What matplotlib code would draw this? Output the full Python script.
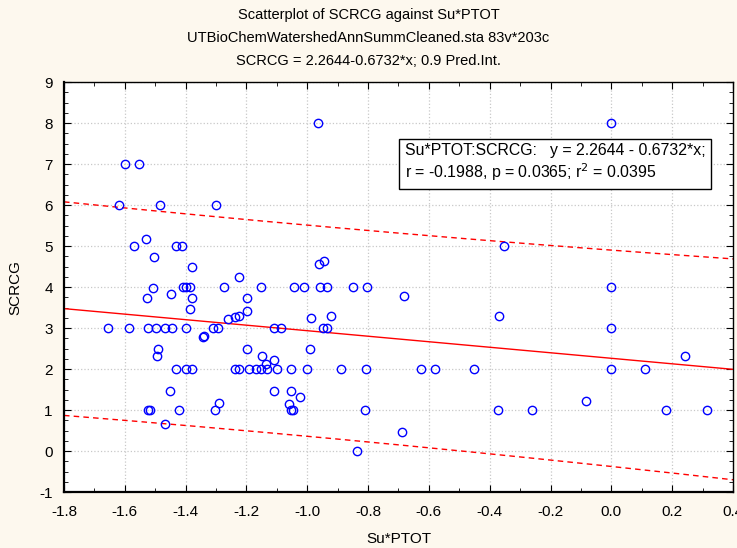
import numpy as np
import matplotlib
matplotlib.use("Agg")
import matplotlib.pyplot as plt
from matplotlib.ticker import MultipleLocator

# points, grouped by rows of similar SCRCG
su_ptot = [
    -0.966, 0.0,
    -1.600, -1.552,
    -1.619, -1.484, -1.300,
    -1.530, -1.570, -1.431, -1.411, -0.353,
    -1.505, -0.963, -0.945, -1.378, -1.224,
    -1.508, -1.410, -1.400, -1.387, -1.274, -1.152, -1.044, -1.012, -0.957, -0.936, -0.849, -0.803, 0.0,
    -1.447, -0.682, -1.526, -1.380, -1.198,
    -1.387, -1.198,
    -1.259, -1.239, -1.224, -0.987, -0.923, -0.370,
    -1.656, -1.587, -1.524, -1.497, -1.468, -1.444, -1.398, -1.310, -1.294, -1.109, -1.087, -0.947, -0.935, 0.0,
    -1.342, -1.339,
    -1.491, -1.198, -0.992,
    -1.494, -1.150, 0.242,
    -1.136, -1.109,
    -1.433, -1.398, -1.380, -1.239, -1.225, -1.193, -1.170, -1.153, -1.133, -1.098, -1.055, -1.002,
    -0.890, -0.807, -0.626, -0.580, -0.452, 0.0, 0.109,
    -1.451, -1.109, -1.053,
    -1.023, -0.082, -1.290, -1.061,
    -1.524, -1.517, -1.422, -1.304, -1.055, -1.048, -0.809, -0.374, -0.262, 0.181, 0.314,
    -1.468, -0.687, -0.838,
]
scrcg = [
    8.0, 8.0,
    7.0, 7.0,
    6.0, 6.0, 6.0,
    5.18, 5.0, 5.0, 5.0, 5.0,
    4.73, 4.57, 4.63, 4.49, 4.24,
    3.97, 4.0, 4.0, 4.0, 4.0, 4.0, 4.0, 4.0, 4.0, 4.0, 4.0, 4.0, 4.0,
    3.84, 3.78, 3.74, 3.74, 3.74,
    3.47, 3.41,
    3.23, 3.26, 3.30, 3.24, 3.30, 3.30,
    3.0, 3.0, 3.0, 3.0, 3.0, 3.0, 3.0, 3.0, 3.0, 3.0, 3.0, 3.0, 3.0, 3.0,
    2.79, 2.81,
    2.49, 2.49, 2.49,
    2.31, 2.31, 2.31,
    2.13, 2.23,
    2.0, 2.0, 2.0, 2.0, 2.0, 2.0, 2.0, 2.0, 2.0, 2.0, 2.0, 2.0,
    2.0, 2.0, 2.0, 2.0, 2.0, 2.0, 2.0,
    1.47, 1.47, 1.47,
    1.32, 1.23, 1.17, 1.16,
    1.0, 1.0, 1.0, 1.0, 1.0, 1.0, 1.0, 1.0, 1.0, 1.0, 1.0,
    0.66, 0.47, 0.0,
]
intercept = 2.2644
slope = -0.6732
t_90 = 1.645

x = np.array(su_ptot)
y = np.array(scrcg)
n = len(x)
resid = y - (intercept + slope * x)
s = np.sqrt((resid ** 2).sum() / (n - 2))
xbar = x.mean()
sxx = ((x - xbar) ** 2).sum()

xx = np.linspace(-1.8, 0.4, 200)
fit = intercept + slope * xx
half = t_90 * s * np.sqrt(1 + 1 / n + (xx - xbar) ** 2 / sxx)

bg = "#fdf8ee"
plt.rcParams["font.family"] = ["Liberation Sans", "DejaVu Sans"]
plt.rcParams["axes.unicode_minus"] = False
fig = plt.figure(figsize=(7.37, 5.48), dpi=100, facecolor=bg)
ax = fig.add_axes([0.0868, 0.102, 0.9078, 0.748])

ax.grid(True, color="#c8c8c8", linestyle=":", linewidth=0.9)
ax.set_axisbelow(True)
ax.plot(xx, fit, color="red", linewidth=1.0)
ax.plot(xx, fit + half, color="red", linewidth=1.0, linestyle=(0, (4, 3)))
ax.plot(xx, fit - half, color="red", linewidth=1.0, linestyle=(0, (4, 3)))
ax.plot(x, y, "o", markerfacecolor="none", markeredgecolor="blue",
        markersize=6, markeredgewidth=1.0, linestyle="none")

ax.set_xlim(-1.8, 0.4)
ax.set_ylim(-1, 9)
ax.xaxis.set_minor_locator(MultipleLocator(0.1))
ax.yaxis.set_major_locator(MultipleLocator(1))
ax.yaxis.set_minor_locator(MultipleLocator(0.25))
ax.set_xticks(np.arange(-1.8, 0.41, 0.2))
ax.set_xticklabels(["-1.8", "-1.6", "-1.4", "-1.2", "-1.0", "-0.8", "-0.6",
                    "-0.4", "-0.2", "0.0", "0.2", "0.4"])
ax.tick_params(which="both", direction="in", top=True, right=True,
               labelsize=11, color="black")
ax.tick_params(which="major", length=5)
ax.tick_params(which="minor", length=3)
ax.tick_params(axis="x", pad=9)
ax.tick_params(axis="y", pad=8)
for sp in ax.spines.values():
    sp.set_linewidth(1.0)
ax.spines["left"].set_linewidth(1.6)
ax.spines["bottom"].set_linewidth(1.6)

ax.set_xlabel("Su*PTOT", fontsize=11, labelpad=10)
ax.set_ylabel("SCRCG", fontsize=11, labelpad=12)

fig.text(0.5, 0.972, "Scatterplot of SCRCG against Su*PTOT", ha="center", va="center", fontsize=10.5)
fig.text(0.5, 0.931, "UTBioChemWatershedAnnSummCleaned.sta 83v*203c", ha="center", va="center", fontsize=10.5)
fig.text(0.5, 0.889, "SCRCG = 2.2644-0.6732*x; 0.9 Pred.Int.", ha="center", va="center", fontsize=10.5)

ax.text(-0.68, 7.03,
        "Su*PTOT:SCRCG:   y = 2.2644 - 0.6732*x;\nr = -0.1988, p = 0.0365; r$^2$ = 0.0395",
        fontsize=11.4, va="center", ha="left", linespacing=1.25,
        bbox=dict(boxstyle="square,pad=0.35", facecolor="white", edgecolor="black", linewidth=1.0))

fig.savefig("out.png", dpi=100, facecolor=bg)
